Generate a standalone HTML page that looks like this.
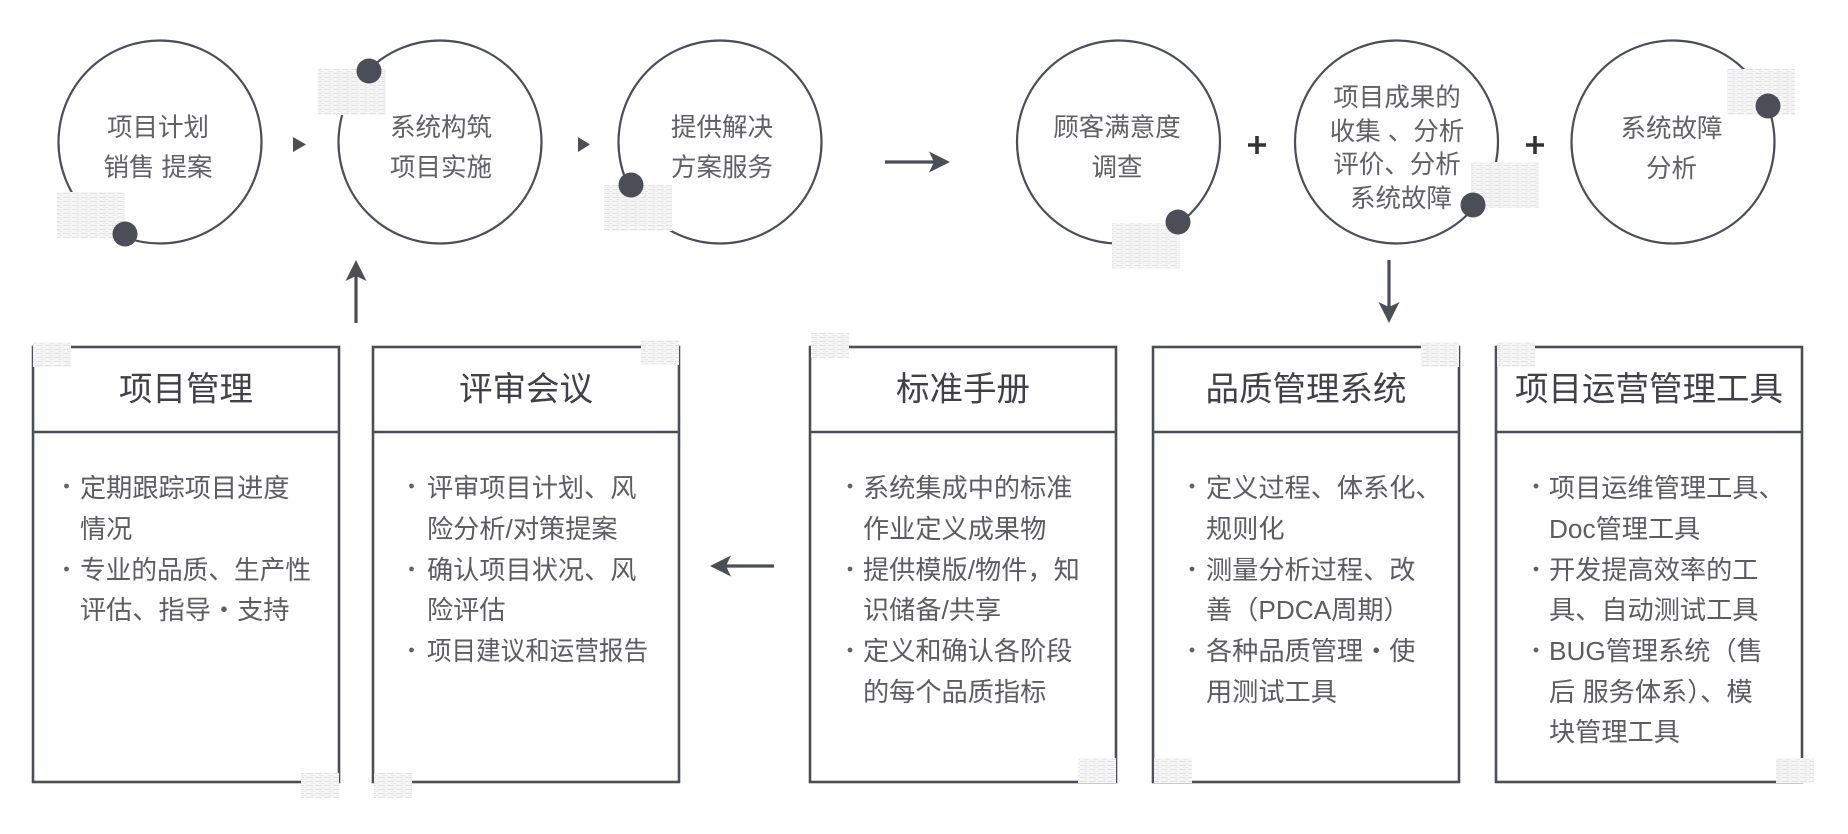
<!DOCTYPE html>
<html>
<head>
<meta charset="utf-8">
<style>
  html,body{margin:0;padding:0;background:#fff;}
  body{width:1848px;height:834px;overflow:hidden;}
  svg{display:block;}
  .ct{font-family:"Liberation Sans","Noto Sans CJK SC",sans-serif;font-size:25.5px;fill:#606065;}
  .tt{font-family:"Liberation Sans","Noto Sans CJK SC",sans-serif;font-size:33.5px;fill:#404146;}
  .bt{font-family:"Liberation Sans","Noto Sans CJK SC",sans-serif;font-size:26.2px;fill:#5c5c61;}
</style>
</head>
<body>
<svg width="1848" height="834" viewBox="0 0 1848 834" xmlns="http://www.w3.org/2000/svg">
  <defs>
    <pattern id="tx" width="9" height="4" patternUnits="userSpaceOnUse">
      <rect width="9" height="4" fill="#f6f6f6"/>
      <rect y="1" width="7" height="1" fill="#e2e2e2"/>
      <rect x="4" y="3" width="5" height="1" fill="#ebebeb"/>
    </pattern>
  </defs>

  <!-- ===== Circles ===== -->
  <g fill="none" stroke="#4b4e57" stroke-width="2.2">
    <circle cx="160" cy="142" r="101.5"/>
    <circle cx="440" cy="142" r="101.5"/>
    <circle cx="720" cy="142" r="101.5"/>
    <circle cx="1118.5" cy="142" r="101.5"/>
    <circle cx="1396.5" cy="142" r="101.5"/>
    <circle cx="1673" cy="142" r="101.5"/>
  </g>

  <!-- circle texture patches -->
  <g fill="url(#tx)">
    <rect x="57" y="192" width="68" height="46"/>
    <rect x="318" y="69" width="68" height="46"/>
    <rect x="604" y="185" width="68" height="46"/>
    <rect x="1112" y="223" width="68" height="46"/>
    <rect x="1471" y="162" width="68" height="46"/>
    <rect x="1727" y="69" width="68" height="46"/>
  </g>

  <!-- dots -->
  <g fill="#4b4e57">
    <circle cx="125" cy="234" r="12.5"/>
    <circle cx="369" cy="71" r="12.5"/>
    <circle cx="631" cy="185" r="12.5"/>
    <circle cx="1178" cy="222" r="12.5"/>
    <circle cx="1473" cy="205" r="12.5"/>
    <circle cx="1768" cy="106" r="12.5"/>
  </g>

  <!-- circle texts -->
  <g class="ct" text-anchor="middle" dominant-baseline="central">
    <text x="158" y="128">项目计划</text>
    <text x="158" y="168">销售 提案</text>
    <text x="441" y="128">系统构筑</text>
    <text x="441" y="168">项目实施</text>
    <text x="722" y="128">提供解决</text>
    <text x="722" y="168">方案服务</text>
    <text x="1117" y="128">顾客满意度</text>
    <text x="1117" y="168">调查</text>
    <text x="1397" y="98">项目成果的</text>
    <text x="1397" y="132">收集 、分析</text>
    <text x="1397" y="165">评价、分析</text>
    <text x="1401" y="199">系统故障</text>
    <text x="1671.5" y="129">系统故障</text>
    <text x="1671.5" y="169">分析</text>
  </g>

  <!-- small triangles -->
  <g fill="#4b4e57">
    <path d="M293,137 L306,144.5 L293,152 Z"/>
    <path d="M578,137 L590,144.5 L578,152 Z"/>
  </g>

  <!-- plus signs -->
  <g stroke="#333" stroke-width="3.6" fill="none">
    <path d="M1248,145 L1266,145 M1257,136 L1257,154"/>
    <path d="M1526,145 L1544,145 M1535,136 L1535,154"/>
  </g>

  <!-- arrows -->
  <g stroke="#4b4e57" stroke-width="3.2" fill="none">
    <line x1="885" y1="162" x2="936" y2="162"/>
    <line x1="724" y1="566" x2="774" y2="566"/>
    <line x1="356" y1="274" x2="356" y2="323"/>
    <line x1="1389" y1="260" x2="1389" y2="309"/>
  </g>
  <g fill="#4b4e57">
    <path d="M950,162 L929,151.5 L934,162 L929,172.5 Z"/>
    <path d="M710,566 L731,555.5 L726,566 L731,576.5 Z"/>
    <path d="M356,260 L345.5,281 L356,276 L366.5,281 Z"/>
    <path d="M1389,323 L1378.5,302 L1389,307 L1399.5,302 Z"/>
  </g>

  <!-- ===== Boxes ===== -->
  <g fill="none" stroke="#4b4e57" stroke-width="2.6">
    <rect x="33" y="347" width="306" height="435"/>
    <line x1="33" y1="432" x2="339" y2="432"/>
    <rect x="373" y="347" width="306" height="435"/>
    <line x1="373" y1="432" x2="679" y2="432"/>
    <rect x="810" y="347" width="306" height="435"/>
    <line x1="810" y1="432" x2="1116" y2="432"/>
    <rect x="1153" y="347" width="306" height="435"/>
    <line x1="1153" y1="432" x2="1459" y2="432"/>
    <rect x="1496" y="347" width="306" height="435"/>
    <line x1="1496" y1="432" x2="1802" y2="432"/>
  </g>

  <!-- box texture patches -->
  <g fill="url(#tx)">
    <rect x="33" y="342" width="38" height="25"/>
    <rect x="301" y="773" width="38" height="25"/>
    <rect x="641" y="340" width="38" height="25"/>
    <rect x="374" y="773" width="38" height="25"/>
    <rect x="811" y="333" width="38" height="25"/>
    <rect x="1078" y="758" width="38" height="25"/>
    <rect x="1421" y="342" width="38" height="25"/>
    <rect x="1154" y="758" width="38" height="25"/>
    <rect x="1497" y="342" width="38" height="25"/>
    <rect x="1776" y="758" width="38" height="25"/>
  </g>

  <!-- titles -->
  <g class="tt" text-anchor="middle" dominant-baseline="central">
    <text x="186" y="390">项目管理</text>
    <text x="526" y="390">评审会议</text>
    <text x="963" y="390">标准手册</text>
    <text x="1306" y="390">品质管理系统</text>
    <text x="1649" y="390">项目运营管理工具</text>
  </g>

  <!-- bullets -->
  <g fill="#626267">
    <circle cx="66.5" cy="486" r="2.4"/>
    <circle cx="66.5" cy="569" r="2.4"/>

    <circle cx="411.5" cy="486" r="2.4"/>
    <circle cx="411.5" cy="569" r="2.4"/>
    <circle cx="411.5" cy="650" r="2.4"/>

    <circle cx="850" cy="486" r="2.4"/>
    <circle cx="850" cy="569" r="2.4"/>
    <circle cx="850" cy="650" r="2.4"/>

    <circle cx="1192" cy="486" r="2.4"/>
    <circle cx="1192" cy="569" r="2.4"/>
    <circle cx="1192" cy="650" r="2.4"/>

    <circle cx="1536" cy="486" r="2.4"/>
    <circle cx="1536" cy="569" r="2.4"/>
    <circle cx="1536" cy="650" r="2.4"/>
  </g>

  <!-- body texts -->
  <g class="bt" dominant-baseline="central">
    <text x="80" y="488">定期跟踪项目进度</text>
    <text x="80" y="529">情况</text>
    <text x="80" y="570" textLength="231" lengthAdjust="spacingAndGlyphs">专业的品质、生产性</text>
    <text x="80" y="610">评估、指导・支持</text>

    <text x="427" y="488">评审项目计划、风</text>
    <text x="427" y="529">险分析/对策提案</text>
    <text x="427" y="570">确认项目状况、风</text>
    <text x="427" y="610">险评估</text>
    <text x="427" y="651" textLength="221" lengthAdjust="spacingAndGlyphs">项目建议和运营报告</text>

    <text x="863" y="488">系统集成中的标准</text>
    <text x="863" y="529">作业定义成果物</text>
    <text x="863" y="570">提供模版/物件，知</text>
    <text x="863" y="610">识储备/共享</text>
    <text x="863" y="651">定义和确认各阶段</text>
    <text x="863" y="692">的每个品质指标</text>

    <text x="1206" y="488">定义过程、体系化、</text>
    <text x="1206" y="529">规则化</text>
    <text x="1206" y="570">测量分析过程、改</text>
    <text x="1206" y="610">善（PDCA周期）</text>
    <text x="1206" y="651">各种品质管理・使</text>
    <text x="1206" y="692">用测试工具</text>

    <text x="1549" y="488">项目运维管理工具、</text>
    <text x="1549" y="529">Doc管理工具</text>
    <text x="1549" y="570">开发提高效率的工</text>
    <text x="1549" y="610">具、自动测试工具</text>
    <text x="1549" y="651">BUG管理系统（售</text>
    <text x="1549" y="692">后 服务体系）、模</text>
    <text x="1549" y="732">块管理工具</text>
  </g>
</svg>
</body>
</html>
